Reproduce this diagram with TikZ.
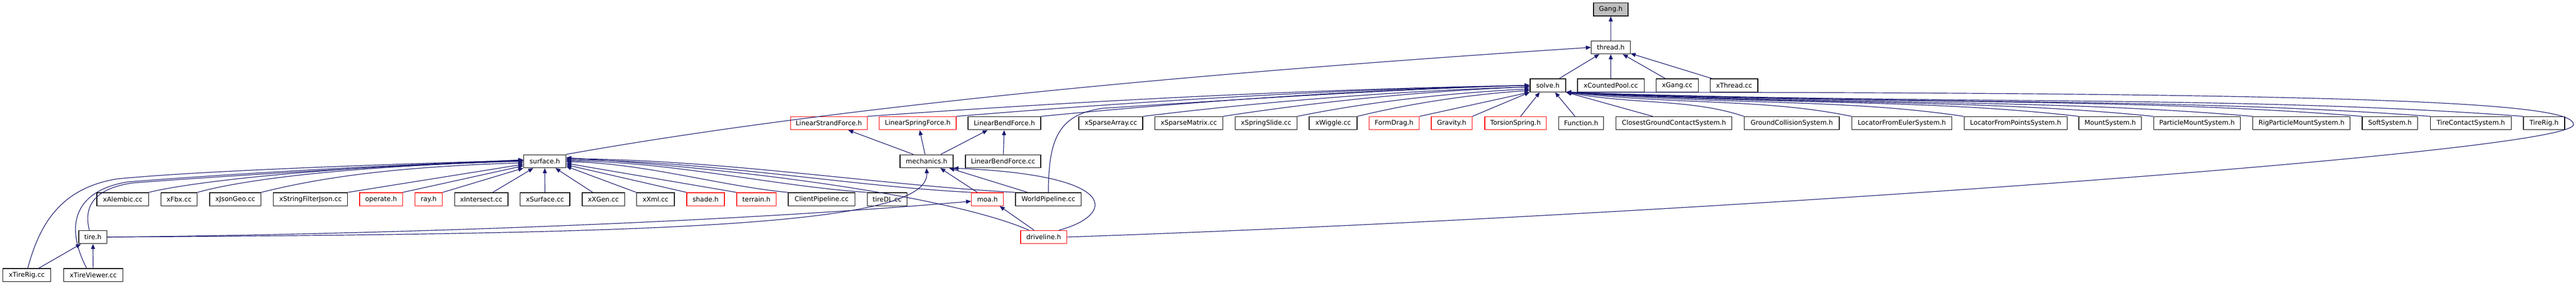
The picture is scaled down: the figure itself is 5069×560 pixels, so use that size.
\documentclass[tikz,border=0pt]{standalone}
\usepackage{fontspec}
\setmainfont{DejaVu Sans}
\usetikzlibrary{arrows.meta}
\definecolor{edgec}{HTML}{191970}
\definecolor{gangfill}{HTML}{BFBFBF}
\begin{document}
\begin{tikzpicture}[x=1pt,y=-1pt,
  box/.style={draw=black, line width=1.4pt, fill=white, minimum height=25.7pt, inner sep=0pt, font=\fontsize{12.9}{15}\selectfont},
  redbox/.style={box, draw=red},
  edge/.style={draw=edgec, line width=1.2pt, -{Triangle[length=10pt,width=8pt]}}]
\useasboundingbox (0,0) rectangle (5069,560);
% row 0-2
\node[box, fill=gangfill, minimum width=67.6pt] (gang) at (3169.6,18.7) {Gang.h};
\node[box, minimum width=76.5pt] (thread) at (3169.6,93.2) {thread.h};
\node[box, minimum width=70.2pt] (solve) at (3045.9,167.9) {solve.h};
\node[box, minimum width=131.3pt] (xcp) at (3169.7,167.9) {xCountedPool.cc};
\node[box, minimum width=82.8pt] (xgang) at (3300.4,167.9) {xGang.cc};
\node[box, minimum width=93.8pt] (xthr) at (3412.3,167.9) {xThread.cc};
% row 3
\node[redbox, minimum width=151pt] (lsf1) at (1631,242.4) {LinearStrandForce.h};
\node[redbox, minimum width=151.2pt] (lsf2) at (1805.8,242.4) {LinearSpringForce.h};
\node[box, minimum width=142.8pt] (lbfh) at (1976.4,242.4) {LinearBendForce.h};
\node[box, minimum width=125.7pt] (xsa) at (2185.9,242.4) {xSparseArray.cc};
\node[box, minimum width=133.7pt] (xsm) at (2339.2,242.4) {xSparseMatrix.cc};
\node[box, minimum width=121.8pt] (xss) at (2491.4,242.4) {xSpringSlide.cc};
\node[box, minimum width=94.3pt] (xwig) at (2623.2,242.4) {xWiggle.cc};
\node[redbox, minimum width=98.8pt] (fdrag) at (2743.3,242.4) {FormDrag.h};
\node[redbox, minimum width=80.4pt] (grav) at (2856.5,242.4) {Gravity.h};
\node[redbox, minimum width=121.1pt] (tors) at (2982.2,242.4) {TorsionSpring.h};
\node[box, minimum width=88.6pt] (func) at (3111.3,242.4) {Function.h};
\node[box, minimum width=228pt] (cgcs) at (3294,242.4) {ClosestGroundContactSystem.h};
\node[box, minimum width=186.9pt] (gcs) at (3525.9,242.4) {GroundCollisionSystem.h};
\node[box, minimum width=196.6pt] (lfes) at (3742.3,242.4) {LocatorFromEulerSystem.h};
\node[box, minimum width=202.7pt] (lfps) at (3966.2,242.4) {LocatorFromPointsSystem.h};
\node[box, minimum width=123.3pt] (mounts) at (4152.4,242.4) {MountSystem.h};
\node[box, minimum width=170.4pt] (pms) at (4323.2,242.4) {ParticleMountSystem.h};
\node[box, minimum width=191.5pt] (rpms) at (4528.8,242.4) {RigParticleMountSystem.h};
\node[box, minimum width=109.1pt] (softs) at (4702.9,242.4) {SoftSystem.h};
\node[box, minimum width=158.9pt] (tcs) at (4862,242.4) {TireContactSystem.h};
\node[box, minimum width=81.1pt] (tirerig) at (5006,242.4) {TireRig.h};
% row 4
\node[box, minimum width=82.9pt] (surf) at (1072,317.2) {surface.h};
\node[box, minimum width=104.3pt] (mech) at (1823.2,317.2) {mechanics.h};
\node[box, minimum width=147.8pt] (lbfcc) at (1973.9,317.2) {LinearBendForce.cc};
% row 5
\node[box, minimum width=101.7pt] (xalem) at (241.6,391.9) {xAlembic.cc};
\node[box, minimum width=71pt] (xfbx) at (352.5,391.9) {xFbx.cc};
\node[box, minimum width=101pt] (xjson) at (463,391.9) {xJsonGeo.cc};
\node[box, minimum width=146pt] (xsfj) at (611,391.9) {xStringFilterJson.cc};
\node[redbox, minimum width=84.2pt] (oper) at (749.9,391.9) {operate.h};
\node[redbox, minimum width=54.1pt] (ray) at (843.5,391.9) {ray.h};
\node[box, minimum width=105.2pt] (xinter) at (947,391.9) {xIntersect.cc};
\node[box, minimum width=97.6pt] (xsurf) at (1072.4,391.9) {xSurface.cc};
\node[box, minimum width=83.6pt] (xxgen) at (1187.2,391.9) {xXGen.cc};
\node[box, minimum width=74.6pt] (xxml) at (1289.9,391.9) {xXml.cc};
\node[redbox, minimum width=74pt] (shade) at (1388.4,391.9) {shade.h};
\node[redbox, minimum width=77.8pt] (terrain) at (1488.5,391.9) {terrain.h};
\node[box, minimum width=131.4pt] (clientp) at (1616.7,391.9) {ClientPipeline.cc};
\node[box, minimum width=78.4pt] (tiredl) at (1745.8,391.9) {tireDL.cc};
\node[redbox, minimum width=62.6pt] (moa) at (1943,391.9) {moa.h};
\node[box, minimum width=129.4pt] (worldp) at (2063,391.9) {WorldPipeline.cc};
% row 6-7
\node[box, minimum width=55.5pt] (tire) at (182.8,466.3) {tire.h};
\node[redbox, minimum width=91pt] (drive) at (2053.8,466.3) {driveline.h};
\node[box, minimum width=94pt] (xtrig) at (52.6,541.2) {xTireRig.cc};
\node[box, minimum width=117.1pt] (xtview) at (183.5,541.2) {xTireViewer.cc};

% edges: top
\draw[edge] (thread) -- (gang);
\draw[edge] (solve) -- (thread);
\draw[edge] (xcp) -- (thread);
\draw[edge] (xgang) -- (thread);
\draw[edge] (xthr) -- (thread);
\draw[edge] (surf.north east) .. controls (1500,235) and (2100,160) .. (thread.west);
% row 3 left -> solve
\draw[edge] (lsf1.north east) .. controls +(391,-28) and +(-456,8) .. (solve.west);
\draw[edge] (lsf2.north east) .. controls +(339,-28) and +(-395,8) .. (solve.west);
\draw[edge] (lbfh.north east) .. controls +(289,-28) and +(-337,8) .. (solve.west);
\draw[edge] (xsa.north east) .. controls +(229,-28) and +(-267,8) .. ([yshift=-3pt]solve.west);
\draw[edge] (xsm.north east) .. controls +(182,-28) and +(-212,8) .. ([yshift=-3pt]solve.west);
\draw[edge] (xss.north east) .. controls +(137,-28) and +(-160,8) .. ([yshift=-7pt]solve.west);
\draw[edge] (xwig.north east) .. controls +(102,-25) and +(-119,8) .. ([yshift=-10pt]solve.west);
\draw[edge] (fdrag.north east) -- (solve.south west);
\draw[edge] (grav.north east) -- (solve.south west);
\draw[edge] ([xshift=10pt]tors.north) -- ([xshift=-16pt]solve.south);
\draw[edge] ([xshift=-12pt]func.north) -- ([xshift=14pt]solve.south);
\draw[edge] ([xshift=-42pt]cgcs.north) -- (solve.south east);
% row 3 right -> solve
\draw[edge] (gcs.north west) .. controls +(-105,-35) and +(140,25) .. (solve.south east);
\draw[edge] (lfes.north west) .. controls +(-169,-35) and +(225,25) .. (solve.south east);
\draw[edge] (lfps.north west) .. controls +(-235,-35) and +(314,25) .. (solve.south east);
\draw[edge] (mounts.north west) .. controls +(-303,-35) and +(404,25) .. (solve.south east);
\draw[edge] (pms.north west) .. controls +(-347,-35) and +(463,25) .. (solve.south east);
\draw[edge] (rpms.north west) .. controls +(-406,-35) and +(541,25) .. (solve.south east);
\draw[edge] (softs.north west) .. controls +(-470,-38) and +(627,25) .. (solve.south east);
\draw[edge] (tcs.north west) .. controls +(-511,-38) and +(681,25) .. (solve.south east);
\draw[edge] (tirerig.north west) .. controls +(-565,-42) and +(754,25) .. (solve.south east);
\draw[edge] (worldp.north) .. controls (2063,270) and (2085,225) .. (2170,213) .. controls (2450,195) and (2750,175) .. (solve.west);
\coordinate (loopR) at (5064,245);
\draw[edge] (drive.east) .. controls (3300,425) and (5064,300) .. (loopR) .. controls (5064,205) and (4750,181) .. (solve.south east);
% mechanics
\draw[edge] ([xshift=-26pt]mech.north) -- ([xshift=38pt]lsf1.south);
\draw[edge] ([xshift=-3pt]mech.north) -- ([xshift=4pt]lsf2.south);
\draw[edge] ([xshift=28pt]mech.north) -- ([xshift=-33pt]lbfh.south);
\draw[edge] (lbfcc) -- (lbfh);
\draw[edge] (tire.east) .. controls (1300,460) and (1830,445) .. (mech.south);
\draw[edge] ([xshift=-20pt]moa.north) -- ([xshift=27pt]mech.south);
\draw[edge] ([xshift=-41pt]worldp.north) -- ([xshift=-8pt]mech.south east);
\draw[edge] ([xshift=30pt]drive.north) .. controls (2190,425) and (2215,345) .. (mech.south east);
\draw[edge] ([xshift=-19pt]drive.north) -- ([xshift=24pt]moa.south);
\draw[edge] (tire.east) .. controls (700,462) and (1400,440) .. ([yshift=-4pt]moa.west);
% surface left
\draw[edge] (xinter) -- (surf);
\draw[edge] (ray.north east) -- (surf.south west);
\draw[edge] (oper.north east) -- ([yshift=-9pt]surf.west);
\draw[edge] (xsfj.north east) -- ([yshift=-6pt]surf.west);
\draw[edge] (xjson.north east) .. controls +(120,-30) and +(-250,8) .. ([yshift=-3pt]surf.west);
\draw[edge] (xfbx.north east) .. controls +(90,-25) and +(-350,10) .. (surf.west);
\draw[edge] (xalem.north east) .. controls +(80,-20) and +(-400,12) .. ([yshift=1pt]surf.west);
\draw[edge] ([xshift=-7pt]tire.north) .. controls (165,410) and (180,372) .. (260,360) .. controls (450,345) and (800,325) .. ([yshift=3pt]surf.west);
\draw[edge] ([xshift=2pt]xtrig.north) .. controls (78,440) and (120,370) .. (230,352) .. controls (400,335) and (800,322) .. ([yshift=2pt]surf.west);
\draw[edge] ([xshift=-13pt]xtview.north) .. controls (125,440) and (150,375) .. (250,358) .. controls (450,342) and (800,322) .. ([yshift=1pt]surf.west);
\draw[edge] (xtrig) -- (tire);
\draw[edge] (xtview) -- (tire);
% surface right
\draw[edge] (xsurf) -- (surf);
\draw[edge] (xxgen) -- (surf);
\draw[edge] (xxml.north west) -- ([yshift=-10pt]surf.east);
\draw[edge] (shade.north west) -- ([yshift=-7pt]surf.east);
\draw[edge] (terrain.north west) -- ([yshift=-4pt]surf.east);
\draw[edge] (clientp.north west) .. controls +(-130,-12) and +(150,2) .. ([yshift=-1pt]surf.east);
\draw[edge] (tiredl.north west) .. controls +(-180,-12) and +(210,2) .. ([yshift=1pt]surf.east);
\draw[edge] (moa.north west) .. controls +(-240,-12) and +(280,2) .. ([yshift=3pt]surf.east);
\draw[edge] (worldp.north west) .. controls +(-265,-14) and +(310,2) .. ([yshift=5pt]surf.east);
\draw[edge] ([xshift=-29pt]drive.north) .. controls (1880,390) and (1500,335) .. ([yshift=7pt]surf.east);
\end{tikzpicture}
\end{document}
